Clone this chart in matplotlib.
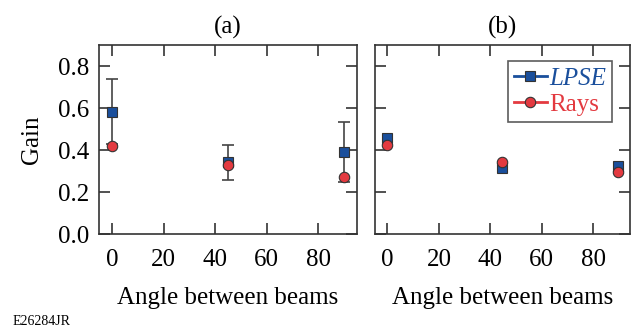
import matplotlib
matplotlib.use("Agg")
import matplotlib.pyplot as plt
from matplotlib.lines import Line2D

plt.rcParams['font.family'] = ['Liberation Serif', 'DejaVu Serif']

# Data
angles_a = [0, 45, 90]
lpse_a = [0.583, 0.342, 0.390]
lpse_err_a = [0.155, 0.083, 0.142]
rays_a = [0.417, 0.330, 0.272]

angles_b = [0, 44.5, 89.5]
lpse_b = [0.456, 0.316, 0.325]
rays_b = [0.422, 0.343, 0.297]

xticks = [0, 20, 40, 60, 80]
yticks = [0.0, 0.2, 0.4, 0.6, 0.8]
ytick_labels = ['0.0', '0.2', '0.4', '0.6', '0.8']

BLUE = '#1a4f9c'
RED = '#e33a40'
EDGE = '#333333'
TICK_FS = 18
LABEL_FS = 18

fig = plt.figure(figsize=(6.36, 3.31), dpi=100)
ax_a = fig.add_axes([0.1557, 0.293, 0.4056, 0.571])
ax_b = fig.add_axes([0.589, 0.293, 0.4016, 0.571])

def style(ax, xlim):
    ax.set_xlim(*xlim)
    ax.set_ylim(0, 0.9)
    ax.set_xticks(xticks)
    ax.set_yticks(yticks)
    ax.tick_params(direction='in', length=8, width=1.2, top=True, right=True,
                   labelsize=TICK_FS, color='#333333')
    ax.tick_params(axis='x', pad=11)
    ax.tick_params(axis='y', pad=7)
    for s in ax.spines.values():
        s.set_linewidth(1.2)
        s.set_color('#333333')
    ax.set_xlabel('Angle between beams', fontsize=LABEL_FS, labelpad=11)

# Panel (a)
ax_a.errorbar(angles_a, lpse_a, yerr=lpse_err_a, fmt='none', ecolor='#444444',
              elinewidth=1.2, capsize=4, capthick=1.2, zorder=2)
ax_a.plot(angles_a, lpse_a, 's', color=BLUE, mec=EDGE, mew=0.8, ms=6.5, zorder=3)
ax_a.plot(angles_a, rays_a, 'o', color=RED, mec=EDGE, mew=0.8, ms=7.5, zorder=4)
style(ax_a, (-5, 95))
ax_a.set_yticklabels(ytick_labels)
ax_a.set_ylabel('Gain', fontsize=LABEL_FS, labelpad=11)
ax_a.set_title('(a)', fontsize=TICK_FS, pad=8)

# Panel (b)
ax_b.plot(angles_b, lpse_b, 's', color=BLUE, mec=EDGE, mew=0.8, ms=6.5, zorder=3)
ax_b.plot(angles_b, rays_b, 'o', color=RED, mec=EDGE, mew=0.8, ms=7.5, zorder=4)
style(ax_b, (-5, 94.3))
ax_b.set_yticklabels([])
ax_b.set_title('(b)', fontsize=TICK_FS, pad=8)

handles = [
    Line2D([0], [0], color=BLUE, marker='s', mfc=BLUE, mec=EDGE, mew=0.8, ms=6.5, lw=2),
    Line2D([0], [0], color=RED, marker='o', mfc=RED, mec=EDGE, mew=0.8, ms=7.5, lw=2),
]
leg = ax_b.legend(handles, ['LPSE', 'Rays'], loc='upper right',
                  bbox_to_anchor=(0.93, 0.915), fontsize=18,
                  frameon=True, fancybox=False, edgecolor='#333333',
                  handlelength=1.3, handletextpad=0.1, borderpad=0.25,
                  labelspacing=0.15, borderaxespad=0.0)
leg.get_frame().set_linewidth(1.2)
texts = leg.get_texts()
texts[0].set_color(BLUE)
texts[0].set_fontstyle('italic')
texts[1].set_color(RED)

fig.text(0.02, 0.009, 'E26284JR', fontsize=10, ha='left', va='bottom')

fig.savefig('out.png', dpi=100)
